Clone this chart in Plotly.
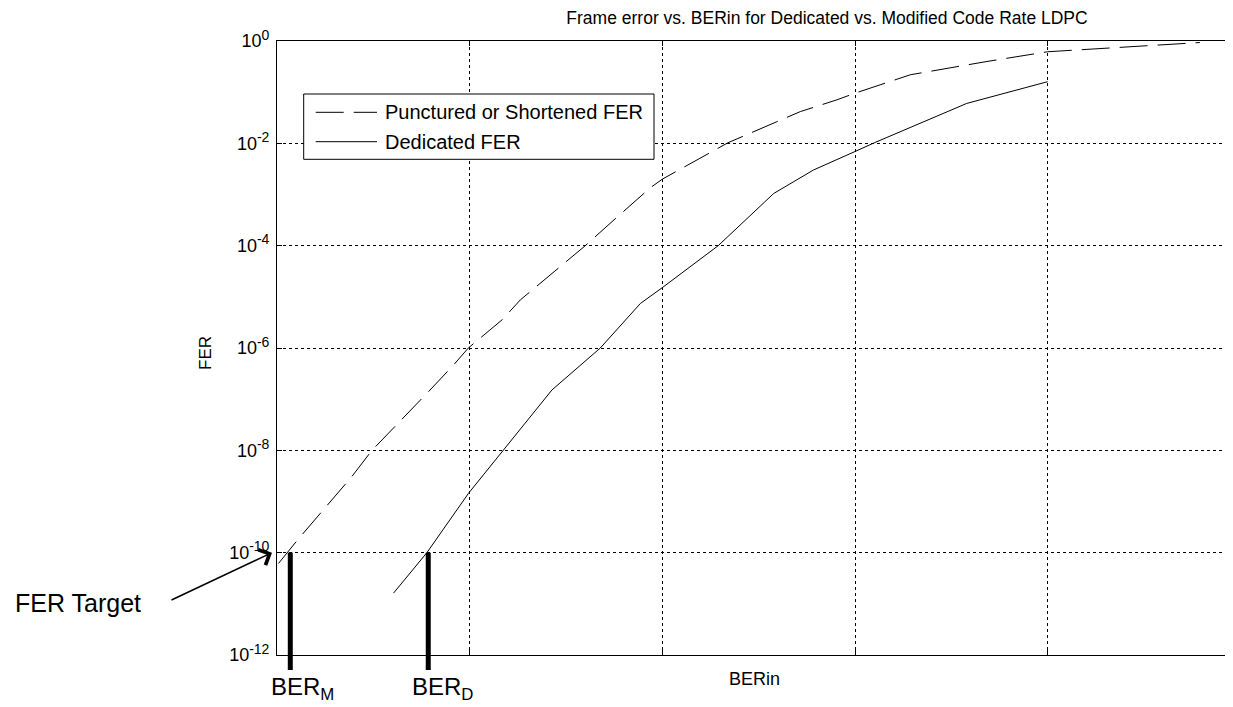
import numpy as np
import plotly.graph_objects as go

# ---------------- data ----------------
# x is BERin in relative (unlabelled) axis units, y is FER
punct_x = [0.008, 0.107, 0.389, 0.493, 0.787, 0.917, 0.993, 1.168, 1.263, 1.356,
           1.600, 1.739, 1.937, 2.000, 2.340, 2.716, 2.906, 3.000, 3.287, 3.685,
           4.000, 4.790]
punct_logfer = [-10.21, -9.75, -8.51, -8.00, -6.85, -6.33, -6.00, -5.45, -5.06, -4.77,
                -4.00, -3.53, -2.87, -2.70, -1.99, -1.38, -1.15, -1.02, -0.66, -0.40,
                -0.21, -0.03]

ded_x = [0.605, 0.778, 0.994, 1.176, 1.427, 1.678, 1.886, 2.000, 2.290, 2.578,
         2.785, 3.000, 3.100, 3.580, 4.000]
ded_logfer = [-10.79, -10.00, -8.84, -8.00, -6.82, -6.00, -5.13, -4.82, -4.00, -2.98,
              -2.52, -2.16, -1.99, -1.22, -0.795]

punct_fer = [10 ** v for v in punct_logfer]
ded_fer = [10 ** v for v in ded_logfer]

fer_target = 1e-10
ber_m = 0.069   # BER_M marker position
ber_d = 0.785   # BER_D marker position

x_grid = [1, 2, 3, 4]
y_tick_exp = [0, -2, -4, -6, -8, -10, -12]
y_tick_vals = [10.0 ** e for e in y_tick_exp]
y_tick_text = ["10<sup><span style='font-size:14px'>%d</span></sup>" % e for e in y_tick_exp]

title_text = "Frame error vs. BERin for Dedicated vs. Modified Code Rate LDPC"
legend_names = ["Punctured or Shortened FER", "Dedicated FER"]

# ---------------- layout geometry (page px -> figure) ----------------
OFF = 8                      # page body margin
W, H = 1233 - OFF, 707 - OFF
ML, MT = 277 - OFF, 41 - OFF
MR = 0
MB = H - (655 - OFF)
PW, PH = W - ML - MR, H - MT - MB
X_UNIT = 192.67  # px per x unit
X_MAX = PW / X_UNIT
Y_MIN, Y_MAX = -12, 0

def px2paper_x(px):
    return (px - OFF - ML) / PW

def px2paper_y(py):
    return (H - MB - (py - OFF)) / PH

def log2paper_y(lv):
    return (lv - Y_MIN) / (Y_MAX - Y_MIN)

FONT = "Arial, Liberation Sans, sans-serif"
DASH = "28px,10px"

fig = go.Figure()
fig.add_trace(go.Scatter(x=punct_x, y=punct_fer, mode="lines", name=legend_names[0],
                         line=dict(color="black", width=1, dash=DASH), showlegend=False))
fig.add_trace(go.Scatter(x=ded_x, y=ded_fer, mode="lines", name=legend_names[1],
                         line=dict(color="black", width=1), showlegend=False))

shapes = []
# Thick BER marker lines, from FER target down below the axis
yt = log2paper_y(np.log10(fer_target))
ybot = px2paper_y(670)
for xb in (ber_m, ber_d):
    shapes.append(dict(type="line", xref="x", yref="paper", x0=xb, x1=xb, y0=yt, y1=ybot,
                       line=dict(color="black", width=5), layer="above"))

# Manual legend (box + line samples)
lx0, lx1 = px2paper_x(303.7), px2paper_x(654)
ly0, ly1 = px2paper_y(159.3), px2paper_y(94)
shapes.append(dict(type="rect", xref="paper", yref="paper", x0=lx0, x1=lx1, y0=ly0, y1=ly1,
                   line=dict(color="black", width=1), fillcolor="white", layer="above"))
entry_y = [px2paper_y(112.3), px2paper_y(141.7)]
sx0, sx1 = px2paper_x(315.7), px2paper_x(377)
shapes.append(dict(type="line", xref="paper", yref="paper", x0=sx0, x1=sx1, y0=entry_y[0], y1=entry_y[0],
                   line=dict(color="black", width=1, dash=DASH), layer="above"))
shapes.append(dict(type="line", xref="paper", yref="paper", x0=sx0, x1=sx1, y0=entry_y[1], y1=entry_y[1],
                   line=dict(color="black", width=1), layer="above"))

annotations = []
for name, ey in zip(legend_names, entry_y):
    annotations.append(dict(text=name, xref="paper", yref="paper", x=px2paper_x(383), y=ey,
                            xanchor="left", yanchor="middle", showarrow=False,
                            font=dict(family=FONT, size=20, color="black")))

# Axis labels
annotations.append(dict(text="FER", xref="paper", yref="paper", x=px2paper_x(205), y=px2paper_y(353),
                        textangle=-90, showarrow=False, xanchor="center", yanchor="middle",
                        font=dict(family=FONT, size=17, color="black")))
annotations.append(dict(text="BERin", xref="paper", yref="paper", x=px2paper_x(754), y=px2paper_y(679),
                        showarrow=False, xanchor="center", yanchor="middle",
                        font=dict(family=FONT, size=18, color="black")))

# BER_M / BER_D labels
for txt, cx in (("BER<sub>M</sub>", 302), ("BER<sub>D</sub>", 442)):
    annotations.append(dict(text=txt, xref="paper", yref="paper", x=px2paper_x(cx), y=px2paper_y(688),
                            showarrow=False, xanchor="center", yanchor="middle",
                            font=dict(family=FONT, size=24, color="black")))

# FER Target text and arrow
annotations.append(dict(text="FER Target", xref="paper", yref="paper", x=px2paper_x(13), y=px2paper_y(603),
                        showarrow=False, xanchor="left", yanchor="middle",
                        font=dict(family=FONT, size=25, color="black")))
annotations.append(dict(text="", xref="paper", yref="paper", x=px2paper_x(272), y=yt,
                        ax=170 - 272, ay=601 - 553, axref="pixel", ayref="pixel",
                        showarrow=True, arrowhead=4, arrowsize=2.2, arrowwidth=1.5,
                        arrowcolor="black", standoff=0, startstandoff=0))

fig.update_layout(
    width=W, height=H,
    margin=dict(l=ML, r=MR, t=MT, b=MB, pad=0),
    paper_bgcolor="white", plot_bgcolor="white",
    title=dict(text=title_text, x=px2paper_x(827), xref="paper", xanchor="center",
               y=1 - (18 - OFF) / H, yref="container", yanchor="middle",
               font=dict(family=FONT, size=17.5, color="black")),
    xaxis=dict(range=[0, X_MAX], tickvals=x_grid, showticklabels=False,
               showgrid=True, gridcolor="black", gridwidth=1, griddash="3px,3px",
               showline=True, linecolor="black", linewidth=1, mirror="ticks",
               ticks="inside", ticklen=5, tickcolor="black", zeroline=False),
    yaxis=dict(type="log", range=[Y_MIN, Y_MAX], tickvals=y_tick_vals, ticktext=y_tick_text,
               showgrid=True, gridcolor="black", gridwidth=1, griddash="3px,3px",
               showline=True, linecolor="black", linewidth=1, mirror=False,
               ticks="inside", ticklen=5, tickcolor="black", zeroline=False,
               ticklabelstandoff=3,
               tickfont=dict(family=FONT, size=18, color="black")),
    shapes=shapes,
    annotations=annotations,
    showlegend=False,
)

fig.write_html("out.html")
